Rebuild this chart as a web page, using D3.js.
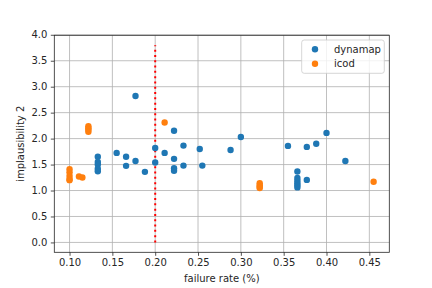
<!DOCTYPE html>
<html>
<head>
<meta charset="utf-8">
<script src="https://cdn.jsdelivr.net/npm/d3@7"></script>
<style>
  body { margin: 0; background: #fff; }
  svg { display: block; font-family: "DejaVu Sans", sans-serif; }
</style>
</head>
<body>
<div id="chart"></div>
<script>
// failure rate (%) / implausibility 2
var dynamapX = [0.177, 0.133, 0.133, 0.133, 0.133, 0.133, 0.155, 0.166, 0.166, 0.177, 0.188,
                0.2, 0.2, 0.211, 0.222, 0.222, 0.222, 0.222, 0.233, 0.233, 0.252, 0.255,
                0.288, 0.3, 0.355, 0.366, 0.366, 0.366, 0.366, 0.366, 0.366, 0.377, 0.377,
                0.388, 0.4, 0.422];
var dynamapY = [2.82, 1.65, 1.55, 1.50, 1.42, 1.37, 1.725, 1.65, 1.475, 1.57, 1.36,
                1.82, 1.54, 1.725, 2.15, 1.61, 1.43, 1.38, 1.865, 1.48, 1.80, 1.48,
                1.78, 2.03, 1.86, 1.365, 1.24, 1.19, 1.14, 1.10, 1.06, 1.84, 1.205,
                1.90, 2.11, 1.57];
var icodX = [0.1, 0.1, 0.1, 0.1, 0.1, 0.111, 0.115, 0.122, 0.122, 0.122, 0.122,
             0.211, 0.322, 0.322, 0.322, 0.322, 0.455];
var icodY = [1.41, 1.35, 1.28, 1.22, 1.20, 1.27, 1.25, 2.24, 2.20, 2.17, 2.13,
             2.31, 1.14, 1.10, 1.07, 1.05, 1.17];
var xTicks = [0.10, 0.15, 0.20, 0.25, 0.30, 0.35, 0.40, 0.45];
var yTicks = [0.0, 0.5, 1.0, 1.5, 2.0, 2.5, 3.0, 3.5, 4.0];
var threshold = 0.2, thresholdTop = 3.8;
var seriesNames = ['dynamap', 'icod'];
var colors = ['#1f77b4', '#ff7f0e'];

var W = 432, H = 288;
var m = {left: 54.3, right: 389.3, top: 35.3, bottom: 252.3};

var svg = d3.select('#chart').append('svg').attr('width', W).attr('height', H);

var x = d3.scaleLinear().domain([0.0822, 0.4733]).range([m.left, m.right]);
var y = d3.scaleLinear().domain([-0.19, 3.99]).range([m.bottom, m.top]);

// grid
var grid = svg.append('g').attr('stroke', '#b0b0b0').attr('stroke-width', 0.8);
grid.selectAll('.gx').data(xTicks).join('line')
  .attr('x1', d => x(d)).attr('x2', d => x(d))
  .attr('y1', m.top).attr('y2', m.bottom);
grid.selectAll('.gy').data(yTicks).join('line')
  .attr('y1', d => y(d)).attr('y2', d => y(d))
  .attr('x1', m.left).attr('x2', m.right);

// threshold line
svg.append('line')
  .attr('x1', x(threshold)).attr('x2', x(threshold))
  .attr('y1', y(0)).attr('y2', y(thresholdTop))
  .attr('stroke', '#ff0000').attr('stroke-width', 2)
  .attr('stroke-dasharray', '2,3.3');

// points
function series(xs, ys, c){
  svg.append('g').selectAll('circle').data(xs.map((d, i) => [d, ys[i]])).join('circle')
    .attr('cx', d => x(d[0])).attr('cy', d => y(d[1])).attr('r', 3.2)
    .attr('fill', c);
}
series(dynamapX, dynamapY, colors[0]);
series(icodX, icodY, colors[1]);

// axes
var xAxis = svg.append('g').attr('transform', 'translate(0,' + m.bottom + ')')
  .call(d3.axisBottom(x).tickValues(xTicks).tickFormat(d3.format('.2f')).tickSize(3.5).tickPadding(3.5));
var yAxis = svg.append('g').attr('transform', 'translate(' + m.left + ',0)')
  .call(d3.axisLeft(y).tickValues(yTicks).tickFormat(d3.format('.1f')).tickSize(3.5).tickPadding(3.5));
[xAxis, yAxis].forEach(function(a){
  a.select('.domain').remove();
  a.selectAll('text').attr('font-size', 10).attr('fill', '#262626').attr('font-family', 'DejaVu Sans');
  a.selectAll('line').attr('stroke', '#262626').attr('stroke-width', 0.8);
});

svg.append('rect').attr('x', m.left).attr('y', m.top)
  .attr('width', m.right - m.left).attr('height', m.bottom - m.top)
  .attr('fill', 'none').attr('stroke', '#262626').attr('stroke-width', 0.8);

svg.append('text').attr('x', (m.left + m.right) / 2).attr('y', 282)
  .attr('text-anchor', 'middle').attr('font-size', 10).attr('fill', '#262626')
  .text('failure rate (%)');
svg.append('text').attr('transform', 'translate(24,' + (m.top + m.bottom) / 2 + ') rotate(-90)')
  .attr('text-anchor', 'middle').attr('font-size', 10).attr('fill', '#262626')
  .text('implausibility 2');

// legend
var lg = svg.append('g').attr('transform', 'translate(301.7,40)');
lg.append('rect').attr('width', 82.6).attr('height', 33.3).attr('rx', 2.5)
  .attr('fill', 'white').attr('fill-opacity', 0.8).attr('stroke', '#cccccc').attr('stroke-width', 0.8);
seriesNames.forEach(function(n, i){
  lg.append('circle').attr('cx', 13.3).attr('cy', 9.3 + i * 14.4).attr('r', 3.2).attr('fill', colors[i]);
  lg.append('text').attr('x', 32.3).attr('y', 9.3 + i * 14.4).attr('dy', '0.35em')
    .attr('font-size', 10).attr('fill', '#262626').text(n);
});
</script>
</body>
</html>
